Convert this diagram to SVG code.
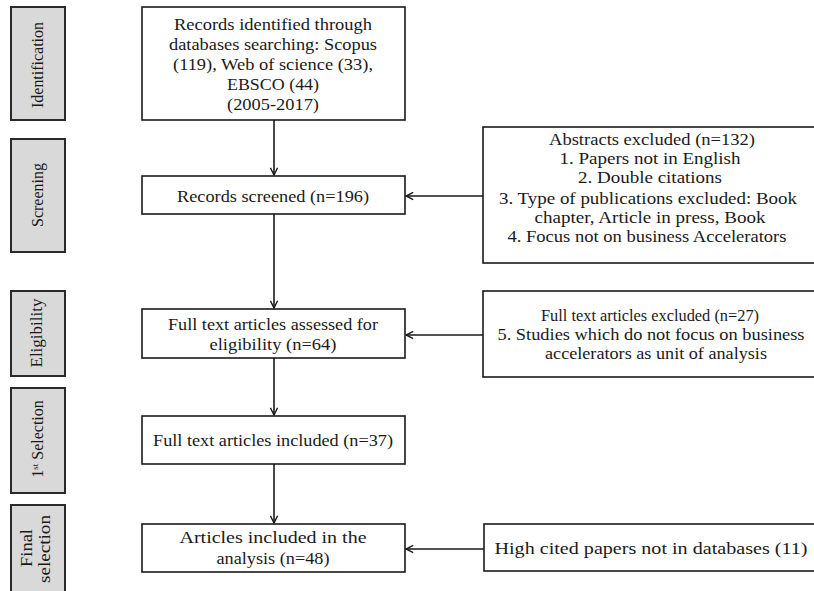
<svg xmlns="http://www.w3.org/2000/svg" width="814" height="591" viewBox="0 0 814 591">
<defs>
<style>
.box{fill:#fff;stroke:#1a1a1a;stroke-width:1.6}
.side{fill:#d9d9d9;stroke:#2a2a2a;stroke-width:2}
.t{font-family:"Liberation Serif","Times New Roman",serif;font-size:16px;fill:#1a1a1a;text-anchor:middle}
.s{font-family:"Liberation Serif","Times New Roman",serif;font-size:16px;fill:#1a1a1a;text-anchor:middle}
.c{fill:none;stroke:#1a1a1a;stroke-width:1.6}
</style>
<marker id="ar" viewBox="0 0 10 10" refX="9" refY="5" markerWidth="9" markerHeight="9" markerUnits="userSpaceOnUse" orient="auto">
<path d="M1,1 L9,5 L1,9" fill="none" stroke="#1a1a1a" stroke-width="1.6"/>
</marker>
</defs>
<rect width="814" height="591" fill="#fff"/>

<g id="side-identification">
<rect class="side" x="11" y="7" width="54" height="113"/>
<text class="s" transform="translate(43,65) rotate(-90)" textLength="86" lengthAdjust="spacingAndGlyphs">Identification</text>
</g>
<g id="side-screening">
<rect class="side" x="11" y="139" width="54" height="113"/>
<text class="s" transform="translate(43,195) rotate(-90)" textLength="64" lengthAdjust="spacingAndGlyphs">Screening</text>
</g>
<g id="side-eligibility">
<rect class="side" x="11" y="291" width="54" height="85"/>
<text class="s" transform="translate(42,333) rotate(-90)" textLength="69" lengthAdjust="spacingAndGlyphs">Eligibility</text>
</g>
<g id="side-1st-selection">
<rect class="side" x="11" y="388" width="54" height="105"/>
<text class="s" transform="translate(43,439) rotate(-90)">1<tspan font-size="9" dy="-5">st</tspan><tspan dy="5"> Selection</tspan></text>
</g>
<g id="side-final-selection">
<rect class="side" x="11" y="505" width="54" height="95"/>
<text class="s" transform="translate(32,548) rotate(-90)" textLength="38" lengthAdjust="spacingAndGlyphs">Final</text>
<text class="s" transform="translate(50,549) rotate(-90)" textLength="68" lengthAdjust="spacingAndGlyphs">selection</text>
</g>

<g id="connectors">
<line class="c" x1="274" y1="120" x2="274" y2="175" marker-end="url(#ar)"/>
<line class="c" x1="274" y1="214" x2="274" y2="308" marker-end="url(#ar)"/>
<line class="c" x1="274" y1="358" x2="274" y2="415" marker-end="url(#ar)"/>
<line class="c" x1="274" y1="464" x2="274" y2="523" marker-end="url(#ar)"/>
<line class="c" x1="483" y1="196" x2="406" y2="196" marker-end="url(#ar)"/>
<line class="c" x1="483" y1="335" x2="406" y2="335" marker-end="url(#ar)"/>
<line class="c" x1="484" y1="549" x2="406" y2="549" marker-end="url(#ar)"/>
</g>

<g id="records-identified">
<rect class="box" x="142" y="7" width="263" height="113"/>
<text class="t" x="273" y="30" textLength="198" lengthAdjust="spacingAndGlyphs">Records identified  through</text>
<text class="t" x="273" y="50" textLength="208" lengthAdjust="spacingAndGlyphs">databases  searching: Scopus</text>
<text class="t" x="273" y="70" textLength="200" lengthAdjust="spacingAndGlyphs">(119), Web of science  (33),</text>
<text class="t" x="273" y="90" textLength="92" lengthAdjust="spacingAndGlyphs">EBSCO (44)</text>
<text class="t" x="273" y="110" textLength="92" lengthAdjust="spacingAndGlyphs">(2005-2017)</text>
</g>
<g id="records-screened">
<rect class="box" x="142" y="176" width="263" height="38"/>
<text class="t" x="273" y="202" textLength="192" lengthAdjust="spacingAndGlyphs">Records screened  (n=196)</text>
</g>
<g id="full-text-assessed">
<rect class="box" x="142" y="309" width="263" height="49"/>
<text class="t" x="273" y="330" textLength="210" lengthAdjust="spacingAndGlyphs">Full text articles assessed  for</text>
<text class="t" x="273" y="350" textLength="127" lengthAdjust="spacingAndGlyphs">eligibility (n=64)</text>
</g>
<g id="full-text-included">
<rect class="box" x="142" y="416" width="263" height="48"/>
<text class="t" x="273" y="446" textLength="240" lengthAdjust="spacingAndGlyphs">Full text articles included (n=37)</text>
</g>
<g id="articles-included">
<rect class="box" x="142" y="524" width="263" height="48"/>
<text class="t" x="273" y="543" textLength="187" lengthAdjust="spacingAndGlyphs">Articles included in the</text>
<text class="t" x="273" y="564" textLength="113" lengthAdjust="spacingAndGlyphs">analysis (n=48)</text>
</g>

<g id="abstracts-excluded">
<rect class="box" x="483" y="127" width="340" height="136"/>
<text class="t" x="652" y="145" textLength="206" lengthAdjust="spacingAndGlyphs">Abstracts excluded  (n=132)</text>
<text class="t" x="650" y="164" textLength="181" lengthAdjust="spacingAndGlyphs">1. Papers not in English</text>
<text class="t" x="650" y="183" textLength="144" lengthAdjust="spacingAndGlyphs">2. Double citations</text>
<text class="t" x="648" y="204" textLength="298" lengthAdjust="spacingAndGlyphs">3. Type of publications excluded:  Book</text>
<text class="t" x="650" y="223" textLength="231" lengthAdjust="spacingAndGlyphs">chapter, Article  in press, Book</text>
<text class="t" x="647" y="242" textLength="279" lengthAdjust="spacingAndGlyphs">4. Focus not on business Accelerators</text>
</g>
<g id="full-text-excluded">
<rect class="box" x="483" y="291" width="340" height="86"/>
<text class="t" x="650" y="321" textLength="218" lengthAdjust="spacingAndGlyphs">Full text articles excluded  (n=27)</text>
<text class="t" x="651" y="340" textLength="307" lengthAdjust="spacingAndGlyphs">5. Studies which do not focus  on business</text>
<text class="t" x="656" y="359" textLength="222" lengthAdjust="spacingAndGlyphs">accelerators  as unit of analysis</text>
</g>
<g id="high-cited">
<rect class="box" x="484" y="524" width="340" height="47"/>
<text class="t" x="651" y="554" textLength="313" lengthAdjust="spacingAndGlyphs">High cited papers not in databases (11)</text>
</g>
</svg>
